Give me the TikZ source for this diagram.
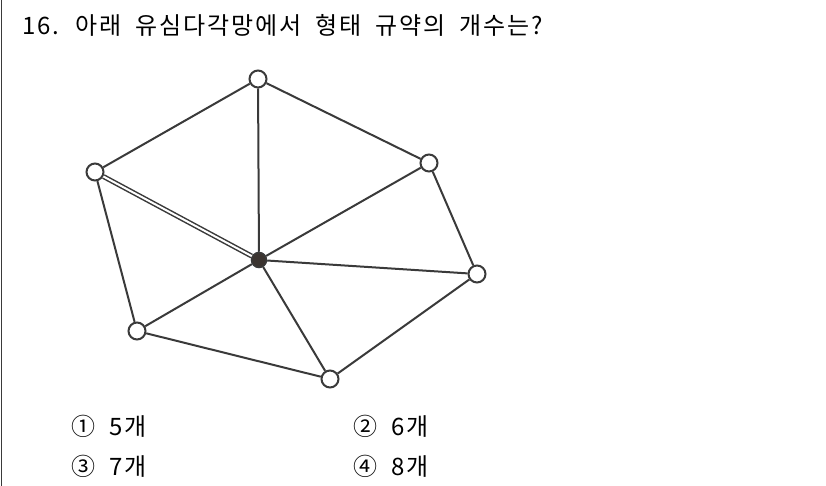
\documentclass[tikz,border=0pt]{standalone}
\usepackage{fontspec}
\newfontfamily\kofont{Noto Sans CJK KR}[LetterSpace=8, WordSpace=1.9]
\usetikzlibrary{positioning}
\definecolor{linegray}{HTML}{3A3A3A}
\definecolor{hubfill}{HTML}{3B3430}

\begin{document}
\begin{tikzpicture}[x=1pt, y=-1pt,
    site/.style={circle, draw=linegray, fill=white, line width=2pt, minimum size=17pt, inner sep=0pt},
    hub/.style={circle, draw=linegray, fill=hubfill, line width=1.5pt, minimum size=15pt, inner sep=0pt},
    link/.style={draw=linegray, line width=2pt},
    duallink/.style={draw=linegray, line width=1.5pt, double=white, double distance=2pt},
    qtext/.style={font=\kofont\fontsize{24}{28}\selectfont, inner sep=0pt, anchor=base west}
]
\useasboundingbox (0,0) rectangle (826,486);

% frame line on the left
\draw[linegray, line width=1pt] (1,0) -- (1,486);

% question
\node[qtext] (title) at (22,35) {16. 아래 유심다각망에서 형태 규약의 개수는?};

% mesh nodes
\node[hub] (hub) at (259,260) {};
\node[site] (top) at (258,79) {};
\node[site] (upright) at (429,163) {};
\node[site] (right) at (477,274) {};
\node[site] (bottom) at (330,379) {};
\node[site] (lowleft) at (137,331) {};
\node[site] (left) at (95,172) {};

% outer ring
\draw[link] (top) -- (upright);
\draw[link] (upright) -- (right);
\draw[link] (right) -- (bottom);
\draw[link] (bottom) -- (lowleft);
\draw[link] (lowleft) -- (left);
\draw[link] (left) -- (top);

% spokes to the hub
\draw[link] (top) -- (hub);
\draw[link] (upright) -- (hub);
\draw[link] (right) -- (hub);
\draw[link] (bottom) -- (hub);
\draw[link] (lowleft) -- (hub);
\draw[duallink] (left) -- (hub);

% answer choices
\node[qtext] (opt1) at (71,435) {① 5개};
\node[qtext] (opt2) at (353,435) {② 6개};
\node[qtext] (opt3) at (71,475) {③ 7개};
\node[qtext] (opt4) at (353,475) {④ 8개};

\end{tikzpicture}
\end{document}
